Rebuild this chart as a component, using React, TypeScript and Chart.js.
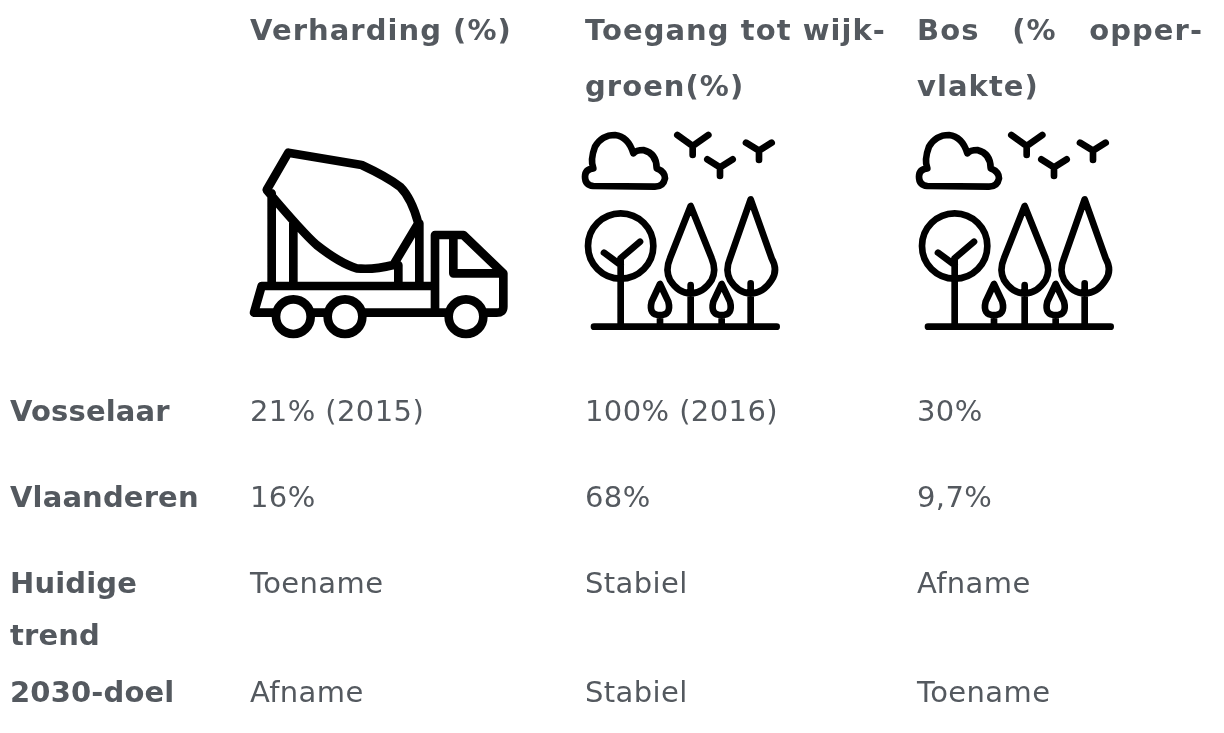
import React, { useEffect, useRef } from "react";
import { Chart, registerables } from "chart.js";

Chart.register(...registerables);

const rowLabels = ["Vosselaar", "Vlaanderen", "Huidige|trend", "2030-doel"];
const verharding = ["21% (2015)", "16%", "Toename", "Afname"];
const wijkgroen = ["100% (2016)", "68%", "Stabiel", "Stabiel"];
const bos = ["30%", "9,7%", "Afname", "Toename"];
const headerLines = [
  ["Verharding (%)"],
  ["Toegang tot wijk-", "groen(%)"],
  ["Bos|(%|opper-", "vlakte)"],
];

const W = 1224;
const H = 733;
const COL_X = [10, 250, 585, 917];
const ROW_Y = [421, 507, 593, 702];
const LINE_H = 52;
const HEAD_Y = [40, 96];
const TEXT = "#54595f";
const FONT = '"DejaVu Sans", Verdana, sans-serif';
const FS = 29;
const JUSTIFY_END = 1203;

const truck = (ctx: CanvasRenderingContext2D) => {
  ctx.lineWidth = 26;
  const p = new Path2D(
    "M110,180 L175,68 L395,105 Q470,140 510,170 Q545,205 565,280 L490,405 Q430,420 380,415 Q330,400 260,345 Q220,310 110,180 Z " +
      "M125,190 V465 M190,280 V465 M505,405 V465 M568,280 V465 " +
      "M95,468 H610 M95,468 L72,548 H130 M245,548 H290 M405,548 H650 " +
      "M615,548 V315 H700 L820,430 V530 Q820,548 800,548 H770 M670,320 V430 H820"
  );
  ctx.stroke(p);
  [190, 345, 708].forEach((x) => {
    ctx.beginPath();
    ctx.arc(x, 560, 52, 0, Math.PI * 2);
    ctx.stroke();
  });
};

const park = (ctx: CanvasRenderingContext2D) => {
  ctx.lineWidth = 20;
  const p = new Path2D(
    "M70,168 Q45,165 45,140 Q45,118 70,115 Q60,90 75,50 Q95,15 135,15 Q175,20 190,70 Q200,60 220,60 Q260,70 260,115 Q285,125 285,145 Q280,170 255,170 Z " +
      "M322,15 L368,48 L415,15 M368,48 V75 M412,88 L450,112 L488,88 M450,112 V138 M528,38 L567,62 L605,38 M567,62 V90 " +
      "M152,390 V590 M102,368 L152,405 M210,335 L152,385 " +
      "M362,228 L300,385 Q285,420 300,450 Q325,490 362,490 Q400,490 425,450 Q440,420 425,385 Z M362,465 V590 " +
      "M542,208 L480,385 Q465,420 480,450 Q505,490 542,490 Q580,490 605,450 Q625,420 605,385 Z M542,460 V590 " +
      "M270,462 L245,515 Q235,555 270,555 Q305,555 295,515 Z M270,555 V590 " +
      "M455,462 L430,515 Q420,555 455,555 Q490,555 480,515 Z M455,555 V590 " +
      "M72,590 H620"
  );
  ctx.stroke(p);
  ctx.beginPath();
  ctx.arc(152, 348, 98, 0, Math.PI * 2);
  ctx.stroke();
};

const tablePlugin = {
  id: "table",
  afterDatasetsDraw(chart: any) {
    const { ctx, scales } = chart;
    const x = (v: number) => scales.x.getPixelForValue(v);
    const y = (v: number) => scales.y.getPixelForValue(v);
    ctx.save();
    ctx.fillStyle = TEXT;
    ctx.textBaseline = "alphabetic";
    ctx.textAlign = "left";

    ctx.font = `bold ${FS}px ${FONT}`;
    ctx.letterSpacing = "1.05px";
    headerLines.forEach((lines, c) => {
      lines.forEach((line, l) => {
        const parts = line.split("|");
        if (parts.length === 1) {
          ctx.fillText(line, x(COL_X[c + 1]), y(HEAD_Y[l]));
        } else {
          const widths = parts.map((t) => ctx.measureText(t).width);
          const total = widths.reduce((a, b) => a + b, 0);
          const gap = (JUSTIFY_END - COL_X[c + 1] - total) / (parts.length - 1);
          let cx = COL_X[c + 1];
          parts.forEach((t, i) => {
            ctx.fillText(t, x(cx), y(HEAD_Y[l]));
            cx += widths[i] + gap;
          });
        }
      });
    });

    ctx.letterSpacing = "0.15px";
    rowLabels.forEach((label, r) => {
      label.split("|").forEach((t, l) => {
        ctx.fillText(t, x(COL_X[0]), y(ROW_Y[r] + l * LINE_H));
      });
    });

    ctx.font = `${FS}px ${FONT}`;
    ctx.letterSpacing = "0.4px";
    chart.data.datasets.forEach((ds: any) => {
      ds.data.forEach((pt: any) => {
        ctx.fillText(pt.label, x(pt.x), y(pt.y));
      });
    });

    ctx.strokeStyle = "#000";
    ctx.lineCap = "round";
    ctx.lineJoin = "round";
    ctx.filter = "blur(0.5px)";
    const icon = (fn: any, ox: number, oy: number) => {
      ctx.save();
      ctx.translate(x(ox), y(oy));
      ctx.scale(1 / 3, 1 / 3);
      fn(ctx);
      ctx.restore();
    };
    icon(truck, 230, 130);
    icon(park, 570, 130);
    icon(park, 904, 130);
    ctx.restore();
  },
};

export default function App() {
  const ref = useRef<HTMLCanvasElement>(null);
  useEffect(() => {
    document.body.style.margin = "0";
    document.body.style.background = "#fff";
    const columns = [verharding, wijkgroen, bos];
    const chart = new Chart(ref.current!, {
      type: "scatter",
      data: {
        datasets: columns.map((col, c) => ({
          label: headerLines[c].join(" ").replace(/\|/g, " "),
          data: col.map((label, r) => ({ x: COL_X[c + 1], y: ROW_Y[r], label })),
          pointRadius: 0,
          showLine: false,
        })),
      } as any,
      options: {
        animation: false,
        responsive: false,
        layout: { padding: 0 },
        plugins: { legend: { display: false }, tooltip: { enabled: false }, title: { display: false } },
        scales: {
          x: { type: "linear", min: 0, max: W, display: false },
          y: { type: "linear", min: 0, max: H, reverse: true, display: false },
        },
      },
      plugins: [tablePlugin],
    });
    return () => chart.destroy();
  }, []);
  return <canvas ref={ref} width={W} height={H} style={{ display: "block" }} />;
}
